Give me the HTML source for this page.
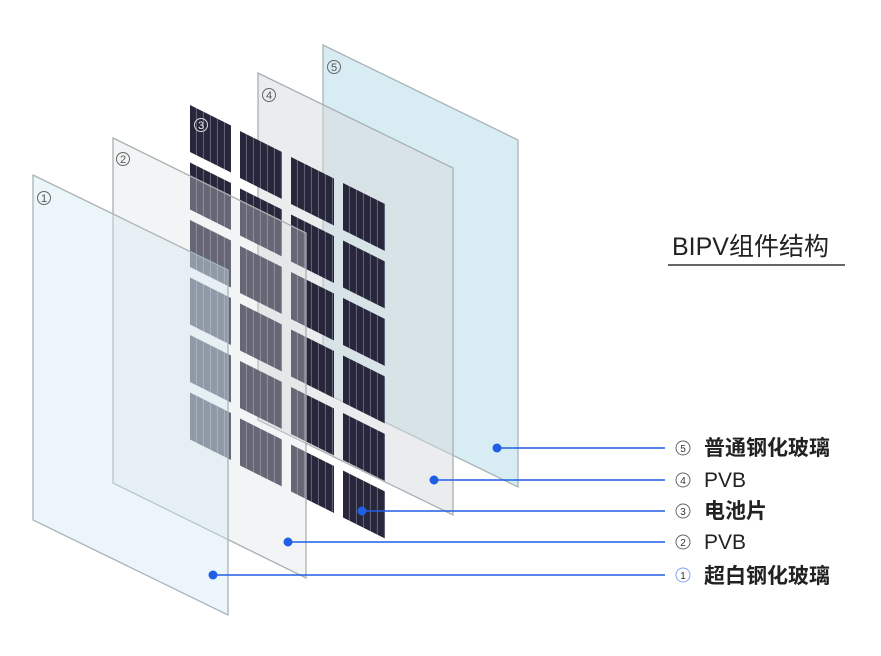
<!DOCTYPE html>
<html><head><meta charset="utf-8"><style>
html,body{margin:0;padding:0;background:#fff;}
svg{display:block;}
text{font-family:"Liberation Sans","Noto Sans CJK SC",sans-serif;}
</style></head><body>
<svg width="881" height="656" viewBox="0 0 881 656" xmlns="http://www.w3.org/2000/svg">
<defs>
<pattern id="cellp" width="7" height="8" patternUnits="userSpaceOnUse">
<rect width="7" height="8" fill="#27263a"/>
<rect x="6" width="1" height="8" fill="#62627a"/>
</pattern>
</defs>
<!-- panel 5 -->
<polygon points="323,45 518,140 518,487 323,392" fill="#d8ecf3" stroke="#a9b4b8" stroke-width="1.3"/>
<!-- panel 4 -->
<polygon points="258,73 453,168 453,515 258,420" fill="#d6dadc" fill-opacity="0.5" stroke="#a9b0b2" stroke-width="1.3"/>
<!-- cells -->
<g>
<g transform="translate(190,105) skewY(26.5)">
<rect x="0" y="0" width="41" height="47" fill="url(#cellp)"/><rect x="0" y="57.5" width="41" height="47" fill="url(#cellp)"/><rect x="0" y="115" width="41" height="47" fill="url(#cellp)"/><rect x="0" y="172.5" width="41" height="47" fill="url(#cellp)"/><rect x="0" y="230" width="41" height="47" fill="url(#cellp)"/><rect x="0" y="287.5" width="41" height="47" fill="url(#cellp)"/>
</g>
<g transform="translate(240,131) skewY(26.5)">
<rect x="0" y="0" width="42" height="47" fill="url(#cellp)"/><rect x="0" y="57.5" width="42" height="47" fill="url(#cellp)"/><rect x="0" y="115" width="42" height="47" fill="url(#cellp)"/><rect x="0" y="172.5" width="42" height="47" fill="url(#cellp)"/><rect x="0" y="230" width="42" height="47" fill="url(#cellp)"/><rect x="0" y="287.5" width="42" height="47" fill="url(#cellp)"/>
</g>
<g transform="translate(291,157) skewY(26.5)">
<rect x="0" y="0" width="43" height="47" fill="url(#cellp)"/><rect x="0" y="57.5" width="43" height="47" fill="url(#cellp)"/><rect x="0" y="115" width="43" height="47" fill="url(#cellp)"/><rect x="0" y="172.5" width="43" height="47" fill="url(#cellp)"/><rect x="0" y="230" width="43" height="47" fill="url(#cellp)"/><rect x="0" y="287.5" width="43" height="47" fill="url(#cellp)"/>
</g>
<g transform="translate(343,183) skewY(26.5)">
<rect x="0" y="0" width="42" height="47" fill="url(#cellp)"/><rect x="0" y="57.5" width="42" height="47" fill="url(#cellp)"/><rect x="0" y="115" width="42" height="47" fill="url(#cellp)"/><rect x="0" y="172.5" width="42" height="47" fill="url(#cellp)"/><rect x="0" y="230" width="42" height="47" fill="url(#cellp)"/><rect x="0" y="287.5" width="42" height="47" fill="url(#cellp)"/>
</g>
</g>
<!-- panel 2 -->
<polygon points="113,138 306,233 306,578 113,483" fill="#dde0e2" fill-opacity="0.35" stroke="#a9b0b2" stroke-width="1.3"/>
<!-- panel 1 -->
<polygon points="33,175 228,270 228,615 33,520" fill="#cfe9f2" fill-opacity="0.4" stroke="#a9b4b8" stroke-width="1.3"/>
<!-- panel numbers -->
<g font-size="11" fill="#555" text-anchor="middle">
<circle cx="44" cy="198" r="6.5" fill="none" stroke="#666"/><text x="44" y="202">1</text>
<circle cx="123" cy="159" r="6.5" fill="none" stroke="#666"/><text x="123" y="163">2</text>
<circle cx="201" cy="125" r="6.5" fill="none" stroke="#ddd"/><text x="201" y="129" fill="#eee">3</text>
<circle cx="269" cy="95" r="6.5" fill="none" stroke="#666"/><text x="269" y="99">4</text>
<circle cx="334" cy="67" r="6.5" fill="none" stroke="#666"/><text x="334" y="71">5</text>
</g>
<!-- connectors -->
<g stroke="#1f5fe6" stroke-width="1.5" fill="#1f5fe6">
<line x1="497" y1="448" x2="665" y2="448"/><circle cx="497" cy="448" r="4.5" stroke="none"/>
<line x1="434" y1="480" x2="665" y2="480"/><circle cx="434" cy="480" r="4.5" stroke="none"/>
<line x1="362" y1="511" x2="665" y2="511"/><circle cx="362" cy="511" r="4.5" stroke="none"/>
<line x1="288" y1="542" x2="665" y2="542"/><circle cx="288" cy="542" r="4.5" stroke="none"/>
<line x1="213" y1="575" x2="665" y2="575"/><circle cx="213" cy="575" r="4.5" stroke="none"/>
</g>
<!-- labels -->
<g font-size="10" fill="#333" text-anchor="middle">
<circle cx="683" cy="448" r="7" fill="none" stroke="#666"/><text x="683" y="452">5</text>
<circle cx="683" cy="480" r="7" fill="none" stroke="#666"/><text x="683" y="484">4</text>
<circle cx="683" cy="511" r="7" fill="none" stroke="#666"/><text x="683" y="515">3</text>
<circle cx="683" cy="542" r="7" fill="none" stroke="#666"/><text x="683" y="546">2</text>
<circle cx="683" cy="575" r="7" fill="none" stroke="#7fa4f0"/><text x="683" y="579">1</text>
</g>
<g font-size="21" fill="#222">
<text x="704" y="455" font-weight="bold">普通钢化玻璃</text>
<text x="704" y="487">PVB</text>
<text x="704" y="518" font-weight="bold">电池片</text>
<text x="704" y="549">PVB</text>
<text x="704" y="583" font-weight="bold">超白钢化玻璃</text>
</g>
<text x="672" y="255" font-size="25" fill="#222">BIPV组件结构</text>
<line x1="668" y1="265" x2="845" y2="265" stroke="#333" stroke-width="1.5"/>
</svg>
</body></html>
